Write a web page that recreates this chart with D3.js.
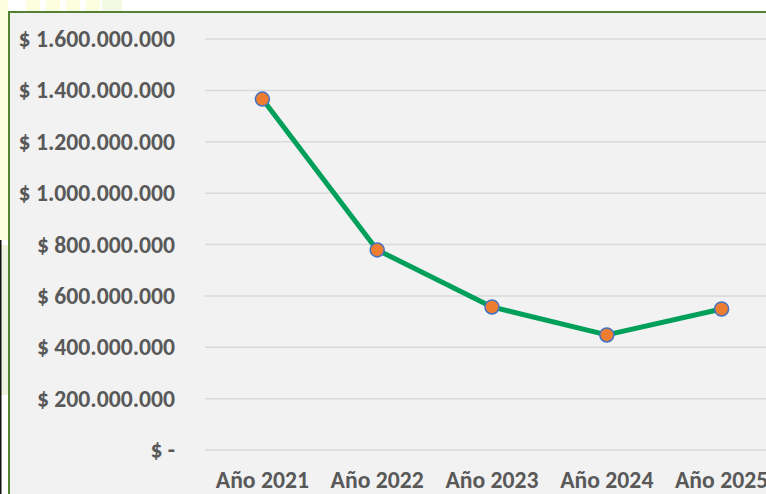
<!DOCTYPE html>
<html lang="es">
<head>
	<meta charset="utf-8">
	<title>Evolución por año</title>
	<script src="https://cdn.jsdelivr.net/npm/d3@7"></script>
	<style>
		body { margin: 0; background: #fff; }
		svg { display: block; }
		.axis text { font-family: Carlito, "Open Sans", sans-serif; font-weight: bold; fill: #595959; }
		.axis path, .axis line { display: none; }
		.grid line { stroke: #d9d9d9; stroke-width: 1.5; }
	</style>
</head>
<body>
	<svg id="chart" width="766" height="494"></svg>
	<script>
		var years = ['Año 2021', 'Año 2022', 'Año 2023', 'Año 2024', 'Año 2025'];
		var amounts = [1366000000, 779000000, 557000000, 448000000, 549000000];
		var yTicks = [0, 200000000, 400000000, 600000000, 800000000, 1000000000, 1200000000, 1400000000, 1600000000];

		var svg = d3.select('#chart'),
			margin = {top: 39, left: 205, bottom: 44},
			height = +svg.attr('height') - margin.top - margin.bottom,
			width = 574;

		// faint yellow marks behind the frame
		svg.append('rect').attr('x', 0).attr('y', 0).attr('width', 8).attr('height', 240).attr('fill', '#fdfde0');
		svg.append('rect').attr('x', 0).attr('y', 245).attr('width', 8).attr('height', 150).attr('fill', '#eef3e0');
		svg.append('rect').attr('x', 0).attr('y', 240).attr('width', 1.5).attr('height', 254).attr('fill', '#111');
		[26, 46, 66, 86].forEach(function(px) {
			svg.append('rect').attr('x', px).attr('y', 0).attr('width', 14).attr('height', 11).attr('fill', '#fdfde0');
		});
		svg.append('rect').attr('x', 102).attr('y', 0).attr('width', 20).attr('height', 11).attr('fill', '#f4f9e4');

		// chart panel
		svg.append('rect')
			.attr('x', 9).attr('y', 12)
			.attr('width', 780).attr('height', 500)
			.attr('fill', '#f2f2f2')
			.attr('stroke', '#548235')
			.attr('stroke-width', 2);

		var x = d3.scaleBand().domain(years).range([0, width]),
			y = d3.scaleLinear().domain([0, 1600000000]).range([height, 0]);

		var g = svg.append('g')
			.attr('transform', 'translate(' + margin.left + ',' + margin.top + ')');

		g.append('g')
			.attr('class', 'grid')
			.selectAll('line')
			.data(yTicks)
			.enter().append('line')
			.attr('x1', 0).attr('x2', width)
			.attr('y1', function(d) { return y(d); })
			.attr('y2', function(d) { return y(d); });

		var fmt = function(d) {
			if (d === 0) return '$ -';
			return '$ ' + d3.format(',')(d).replace(/,/g, '.');
		};

		g.append('g')
			.attr('class', 'axis axis--y')
			.attr('transform', 'translate(-18,0)')
			.call(d3.axisLeft(y).tickValues(yTicks).tickFormat(fmt).tickSize(0).tickPadding(12))
			.selectAll('text').style('font-size', '23.7px');

		g.append('g')
			.attr('class', 'axis axis--x')
			.attr('transform', 'translate(0,' + height + ')')
			.call(d3.axisBottom(x).tickSize(0).tickPadding(21))
			.selectAll('text').style('font-size', '23.7px');

		var line = d3.line()
			.x(function(d, i) { return x(years[i]) + x.bandwidth() / 2; })
			.y(function(d) { return y(d); });

		g.append('path')
			.datum(amounts)
			.attr('fill', 'none')
			.attr('stroke', '#00a05a')
			.attr('stroke-width', 5)
			.attr('stroke-linejoin', 'round')
			.attr('d', line);

		g.selectAll('.dot')
			.data(amounts)
			.enter().append('circle')
			.attr('class', 'dot')
			.attr('cx', function(d, i) { return x(years[i]) + x.bandwidth() / 2; })
			.attr('cy', function(d) { return y(d); })
			.attr('r', 7)
			.attr('fill', '#ed7d31')
			.attr('stroke', '#4472c4')
			.attr('stroke-width', 1.5);
	</script>
</body>
</html>
